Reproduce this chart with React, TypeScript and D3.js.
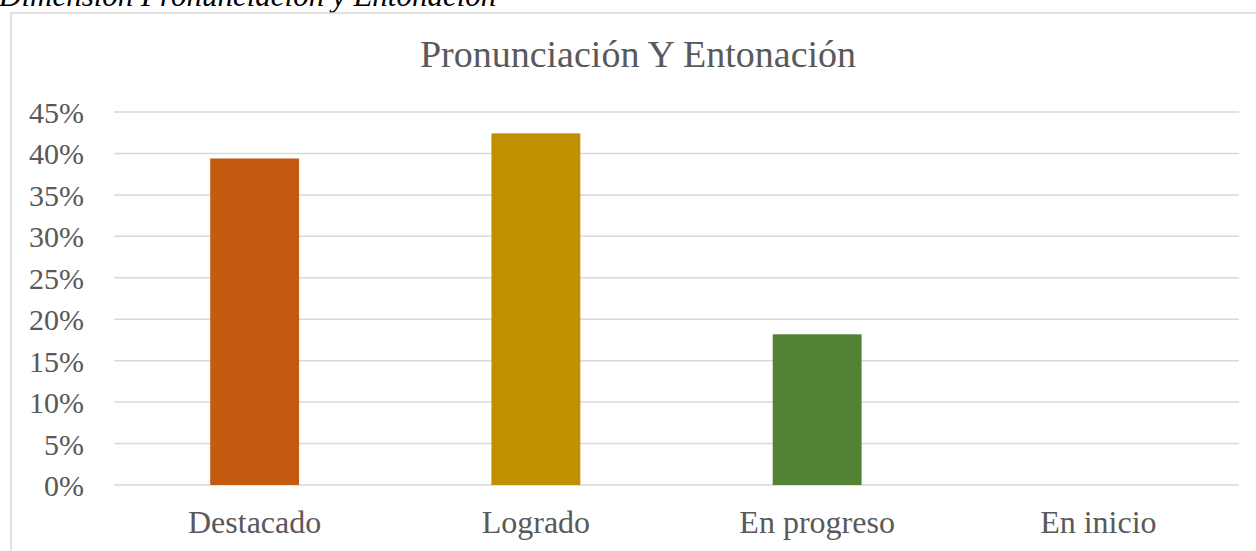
import React from "react";
import * as d3 from "d3";

const categories = ["Destacado", "Logrado", "En progreso", "En inicio"];
const values = [0.3939, 0.4242, 0.1818, 0];
const barColors = ["#C55A11", "#BF9000", "#548235", "#2E75B6"];
const yTicks = [0, 0.05, 0.1, 0.15, 0.2, 0.25, 0.3, 0.35, 0.4, 0.45];
const chartTitle = "Pronunciación Y Entonación";
const caption = "Dimensión Pronunciación y Entonación";

const W = 1256;
const H = 551;
const FONT = "'Liberation Serif', 'Times New Roman', serif";

export default function App() {
  const x = d3.scaleBand<string>().domain(categories).range([114, 1239]).padding(0);
  const y = d3.scaleLinear().domain([0, 0.45]).range([485, 112]);
  const barW = x.bandwidth() * 0.316;
  const fmt = d3.format(".0%");

  return (
    <svg
      width={W}
      height={H}
      style={{ position: "absolute", left: 0, top: 0, background: "#fff" }}
      fontFamily={FONT}
    >
      <text x={-1} y={6} fontSize={31} fontStyle="italic" fill="#000">
        {caption}
      </text>
      <rect x={11} y={13} width={1255} height={560} fill="#fff" stroke="#D9D9D9" strokeWidth={1.5} />
      <text x={638} y={67} fontSize={38} fill="#595959" textAnchor="middle">
        {chartTitle}
      </text>
      {yTicks.map((t) => (
        <g key={t}>
          <line x1={114} x2={1239} y1={y(t)} y2={y(t)} stroke="#D9D9D9" strokeWidth={1.5} />
          <text x={84} y={y(t) + 11} fontSize={30} fill="#595959" textAnchor="end">
            {fmt(t)}
          </text>
        </g>
      ))}
      {categories.map((c, i) => {
        const cx = (x(c) as number) + x.bandwidth() / 2;
        return (
          <g key={c}>
            {values[i] > 0 && (
              <rect
                x={cx - barW / 2}
                y={y(values[i])}
                width={barW}
                height={y(0) - y(values[i])}
                fill={barColors[i]}
              />
            )}
            <text x={cx} y={533} fontSize={32} fill="#595959" textAnchor="middle">
              {c}
            </text>
          </g>
        );
      })}
    </svg>
  );
}
